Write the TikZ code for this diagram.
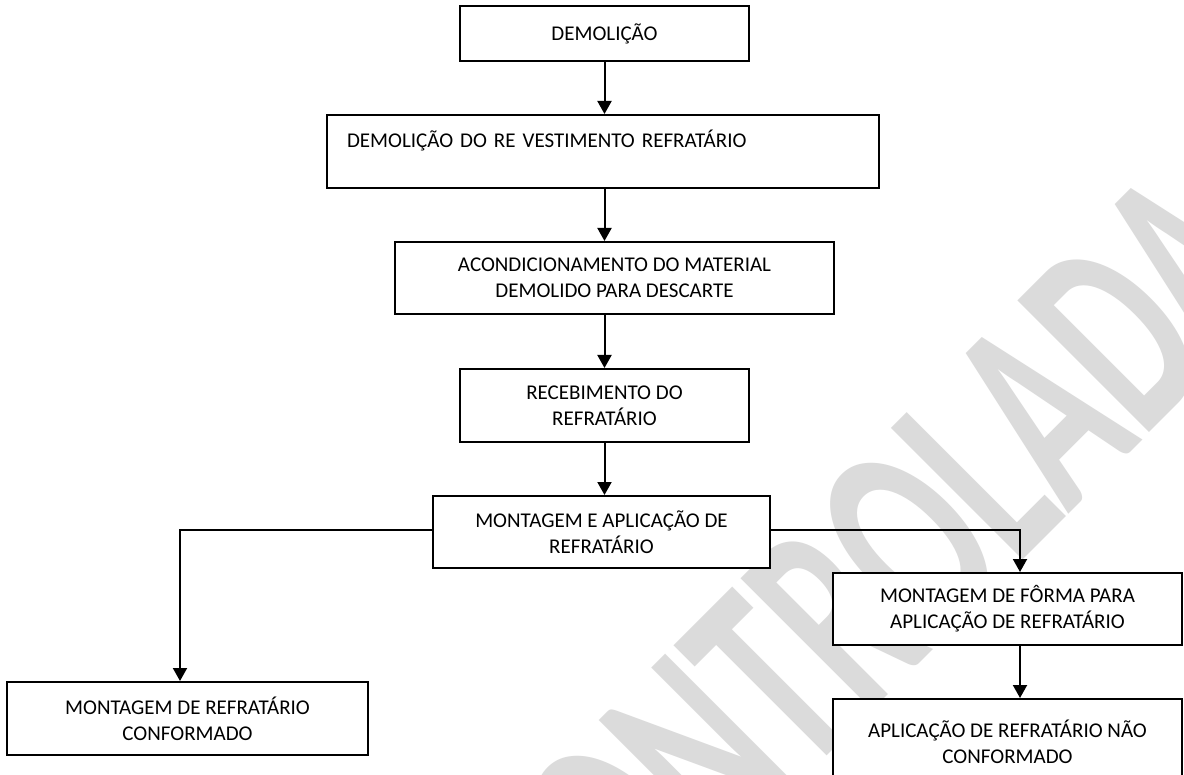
\documentclass[tikz,border=0pt]{standalone}
\usepackage{fontspec}
\setmainfont{Carlito}
\usetikzlibrary{arrows.meta}

\begin{document}
\begin{tikzpicture}[x=0.5pt,y=-0.5pt,
    caixa/.style={draw,fill=white,line width=1pt,align=center,inner sep=0pt,
      font=\fontsize{10.5}{13}\selectfont},
    seta/.style={line width=1pt,-{Triangle[width=7pt,length=6.5pt]}}]
    \clip (0,0) rectangle (1184,775);
    \fill[white] (0,0) rectangle (1184,775);
    % marca d'agua
    \node(marca)[rotate=45,yscale=1.65,transform shape,inner sep=0pt,text=black!14,
      font=\fontsize{87}{90}\bfseries\selectfont] at (868,583) {CONTROLADA};
    \node(b1)[caixa,minimum width=144.5pt,minimum height=27.5pt] at (604.5,33.5) {DEMOLIÇÃO};
    \node(b2)[caixa,minimum width=276pt,minimum height=36.5pt,text width=256pt,align=left]
      at (603,151.5) {DEMOLIÇÃO DO RE VESTIMENTO REFRATÁRIO\\ \mbox{}};
    \node(b3)[caixa,minimum width=219.5pt,minimum height=36pt] at (614.5,278)
      {ACONDICIONAMENTO DO MATERIAL\\DEMOLIDO PARA DESCARTE};
    \node(b4)[caixa,minimum width=144.5pt,minimum height=36.5pt] at (604.5,405.5)
      {RECEBIMENTO DO\\REFRATÁRIO};
    \node(b5)[caixa,minimum width=168.5pt,minimum height=36pt] at (601.5,532)
      {MONTAGEM E APLICAÇÃO DE\\REFRATÁRIO};
    \node(b6)[caixa,minimum width=180.5pt,minimum height=36.5pt] at (187.5,718.5)
      {MONTAGEM DE REFRATÁRIO\\CONFORMADO};
    \node(b7)[caixa,minimum width=174.5pt,minimum height=36pt] at (1007.5,609)
      {MONTAGEM DE FÔRMA PARA\\APLICAÇÃO DE REFRATÁRIO};
    \node(b8)[caixa,minimum width=174.5pt,minimum height=43pt] at (1007.5,742)
      {APLICAÇÃO DE REFRATÁRIO NÃO\\CONFORMADO};
    \coordinate (esq) at (180,530);
    \coordinate (dir) at (1020,530);
    \draw[seta] (b1.south) -- (b1.south |- b2.north);
    \draw[seta] (b1.south |- b2.south) -- (b1.south |- b3.north);
    \draw[seta] (b1.south |- b3.south) -- (b4.north);
    \draw[seta] (b4.south) -- (b4.south |- b5.north);
    \draw[seta] (b5.west |- esq) -- (esq) -- (esq |- b6.north);
    \draw[seta] (b5.east |- dir) -- (dir) -- (dir |- b7.north);
    \draw[seta] (dir |- b7.south) -- (dir |- b8.north);
\end{tikzpicture}
\end{document}
